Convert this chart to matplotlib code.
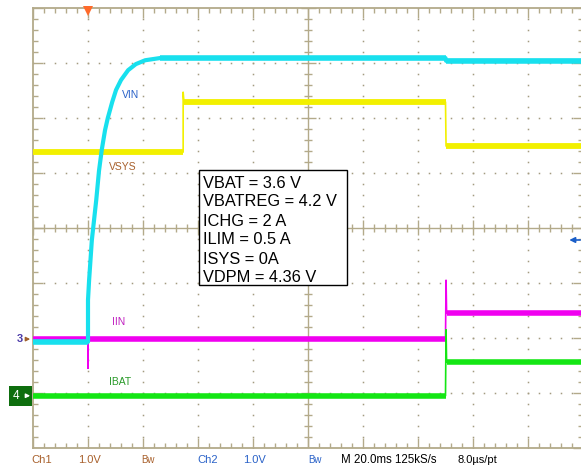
import numpy as np
import matplotlib
matplotlib.use("Agg")
import matplotlib.pyplot as plt
from matplotlib.patches import Rectangle

plt.rcParams["font.family"] = ["Liberation Sans", "DejaVu Sans"]

# screen positions in divisions (10 x 8 graticule, 0 at centre line vertically)
vin_x = [0.0, 1.0, 1.0, 1.02, 1.07, 1.15, 1.2, 1.25, 1.31, 1.36, 1.44, 1.51, 1.6,
         1.73, 1.87, 2.04, 2.31, 7.5, 7.51, 10.0]
vin_y = [-2.07, -2.07, -1.31, -0.95, -0.22, 0.51, 1.04, 1.42, 1.78, 2.0, 2.29, 2.51, 2.69,
         2.87, 2.98, 3.05, 3.09, 3.09, 3.04, 3.04]

vsys_x = [0.0, 2.73, 2.73, 2.745, 7.5, 7.51, 10.0]
vsys_y = [1.38, 1.38, 2.47, 2.29, 2.29, 1.49, 1.49]

iin_x = [0.0, 1.0, 1.0, 1.0, 7.5, 7.51, 7.52, 10.0]
iin_y = [-2.02, -2.02, -2.55, -2.02, -2.02, -0.95, -1.55, -1.55]

ibat_x = [0.0, 7.5, 7.51, 7.52, 10.0]
ibat_y = [-3.05, -3.05, -1.85, -2.44, -2.44]

settings = ["VBAT = 3.6 V", "VBATREG = 4.2 V", "ICHG = 2 A",
            "ILIM = 0.5 A", "ISYS = 0A", "VDPM = 4.36 V"]

GRID = "#b3aa8a"
DOT = "#a39b80"

fig = plt.figure(figsize=(5.81, 4.65), dpi=100)
ax = fig.add_axes([33 / 581, 17 / 465, 550 / 581, 440 / 465])
ax.set_xlim(0, 10)
ax.set_ylim(-4, 4)
ax.axis("off")

px = 1 / 55  # one pixel in division units

# dotted graticule
fine = np.arange(0, 10.001, 0.2)
fine_y = np.arange(-4, 4.001, 0.2)
for gx in [1, 2, 3, 4, 6, 7, 8, 9]:
    ax.plot(np.full_like(fine_y, gx), fine_y, ls="none", marker="s", ms=1.1, mew=0, color=DOT)
for gy in [-3, -2, -1, 1, 2, 3]:
    ax.plot(fine, np.full_like(fine, gy), ls="none", marker="s", ms=1.1, mew=0, color=DOT)

# border and centre lines
for gx in [0, 10]:
    ax.axvline(gx, color=GRID, lw=1.3, clip_on=False)
for gy in [-4, 4]:
    ax.axhline(gy, color=GRID, lw=1.3, clip_on=False)
ax.axvline(5, color=GRID, lw=1.0)
ax.axhline(0, color=GRID, lw=1.0)

# tick marks
for t in fine:
    major = abs(t - round(t)) < 1e-6
    ln = (10 if major else 5) * px
    ax.vlines(t, 4 - ln, 4, color=GRID, lw=1.0)
    ax.vlines(t, -4, -4 + ln, color=GRID, lw=1.0)
    ax.vlines(t, -ln * 0.75, ln * 0.75, color=GRID, lw=1.0)
for t in fine_y:
    major = abs(t - round(t)) < 1e-6
    ln = (10 if major else 5) * px
    ax.hlines(t, 0, ln, color=GRID, lw=1.0)
    ax.hlines(t, 10 - ln, 10, color=GRID, lw=1.0, clip_on=False)
    ax.hlines(t, 5 - ln * 0.75, 5 + ln * 0.75, color=GRID, lw=1.0)


def draw_trace(xs, ys, color, thin=1.2, thick=4.0):
    ax.plot(xs, ys, color=color, lw=thin, solid_capstyle="butt", solid_joinstyle="round")
    for i in range(len(xs) - 1):
        if ys[i] == ys[i + 1]:
            ax.plot(xs[i:i + 2], ys[i:i + 2], color=color, lw=thick, solid_capstyle="butt")


draw_trace(vsys_x, vsys_y, "#f2f000", thin=1.2, thick=4.2)
draw_trace(iin_x, iin_y, "#f000f0", thin=1.2, thick=4.0)
draw_trace(ibat_x, ibat_y, "#14e614", thin=1.2, thick=4.0)
draw_trace(vin_x, vin_y, "#18e0ee", thin=3.0, thick=4.0)

# trace labels
ax.text((131 - 33) * px, (228 - 95) * px, "VIN", color="#2a62c8", fontsize=7.5, ha="center", va="center")
ax.text((123 - 33) * px, (228 - 167) * px, "VSYS", color="#a8602c", fontsize=7.5, ha="center", va="center")
ax.text((119 - 33) * px, (228 - 322) * px, "IIN", color="#c020c0", fontsize=7.5, ha="center", va="center")
ax.text((120 - 33) * px, (228 - 382) * px, "IBAT", color="#2a9a2a", fontsize=7.5, ha="center", va="center")

# settings box
ax.add_patch(Rectangle((166 * px, -57 * px), 148 * px, 115 * px, facecolor="white",
                       edgecolor="black", lw=1.0, zorder=5))
for i, s in enumerate(settings):
    ax.text(170 * px, (228 - 183 - i * 19) * px, s, fontsize=11.8, color="black",
            ha="left", va="center", zorder=6)

# markers around the graticule
ax.plot([1], [4 - 3 * px], marker="v", ms=7, color="#ff6a2a", mew=0, clip_on=False, zorder=7)
ax.text(-13 * px, -2.02, "3", color="#4a3aa8", fontsize=8, ha="center", va="center", fontweight="bold")
ax.annotate("", xy=(0, -2.02), xytext=(-9 * px, -2.02),
            arrowprops=dict(arrowstyle="-|>", color="#a0602c", lw=1.0, mutation_scale=6),
            annotation_clip=False)
ax.add_patch(Rectangle((-24 * px, -3.24), 23 * px, 20 * px, facecolor="#0e6e0e",
                       edgecolor="none", clip_on=False, zorder=6))
ax.text(-17 * px, -3.05, "4", color="white", fontsize=8.5, ha="center", va="center", zorder=7)
ax.annotate("", xy=(0, -3.05), xytext=(-9 * px, -3.05),
            arrowprops=dict(arrowstyle="-|>", color="white", lw=1.0, mutation_scale=6),
            annotation_clip=False, zorder=8)
ax.annotate("", xy=(9.7, (228 - 240) * px), xytext=(10.0, (228 - 240) * px),
            arrowprops=dict(arrowstyle="-|>", color="#1a5ec8", lw=1.2, mutation_scale=8),
            annotation_clip=False)

# status line
ty = 1 - 459.5 / 465
fig.text(42 / 581, ty, "Ch1", color="#a8602c", fontsize=8, ha="center", va="center")
fig.text(89 / 581, ty, "1.0V", color="#a8602c", fontsize=8, ha="center", va="center")
fig.text(148 / 581, ty, "Bw", color="#a8602c", fontsize=7, ha="center", va="center")
fig.text(208 / 581, ty, "Ch2", color="#2a62c8", fontsize=8, ha="center", va="center")
fig.text(254 / 581, ty, "1.0V", color="#2a62c8", fontsize=8, ha="center", va="center")
fig.text(315 / 581, ty, "Bw", color="#2a62c8", fontsize=7, ha="center", va="center")
fig.text(341 / 581, ty, "M 20.0ms 125kS/s", color="black", fontsize=8.3, ha="left", va="center")
fig.text(458 / 581, ty, "8.0\u00b5s/pt", color="black", fontsize=8, ha="left", va="center")

fig.savefig("out.png", dpi=100)
